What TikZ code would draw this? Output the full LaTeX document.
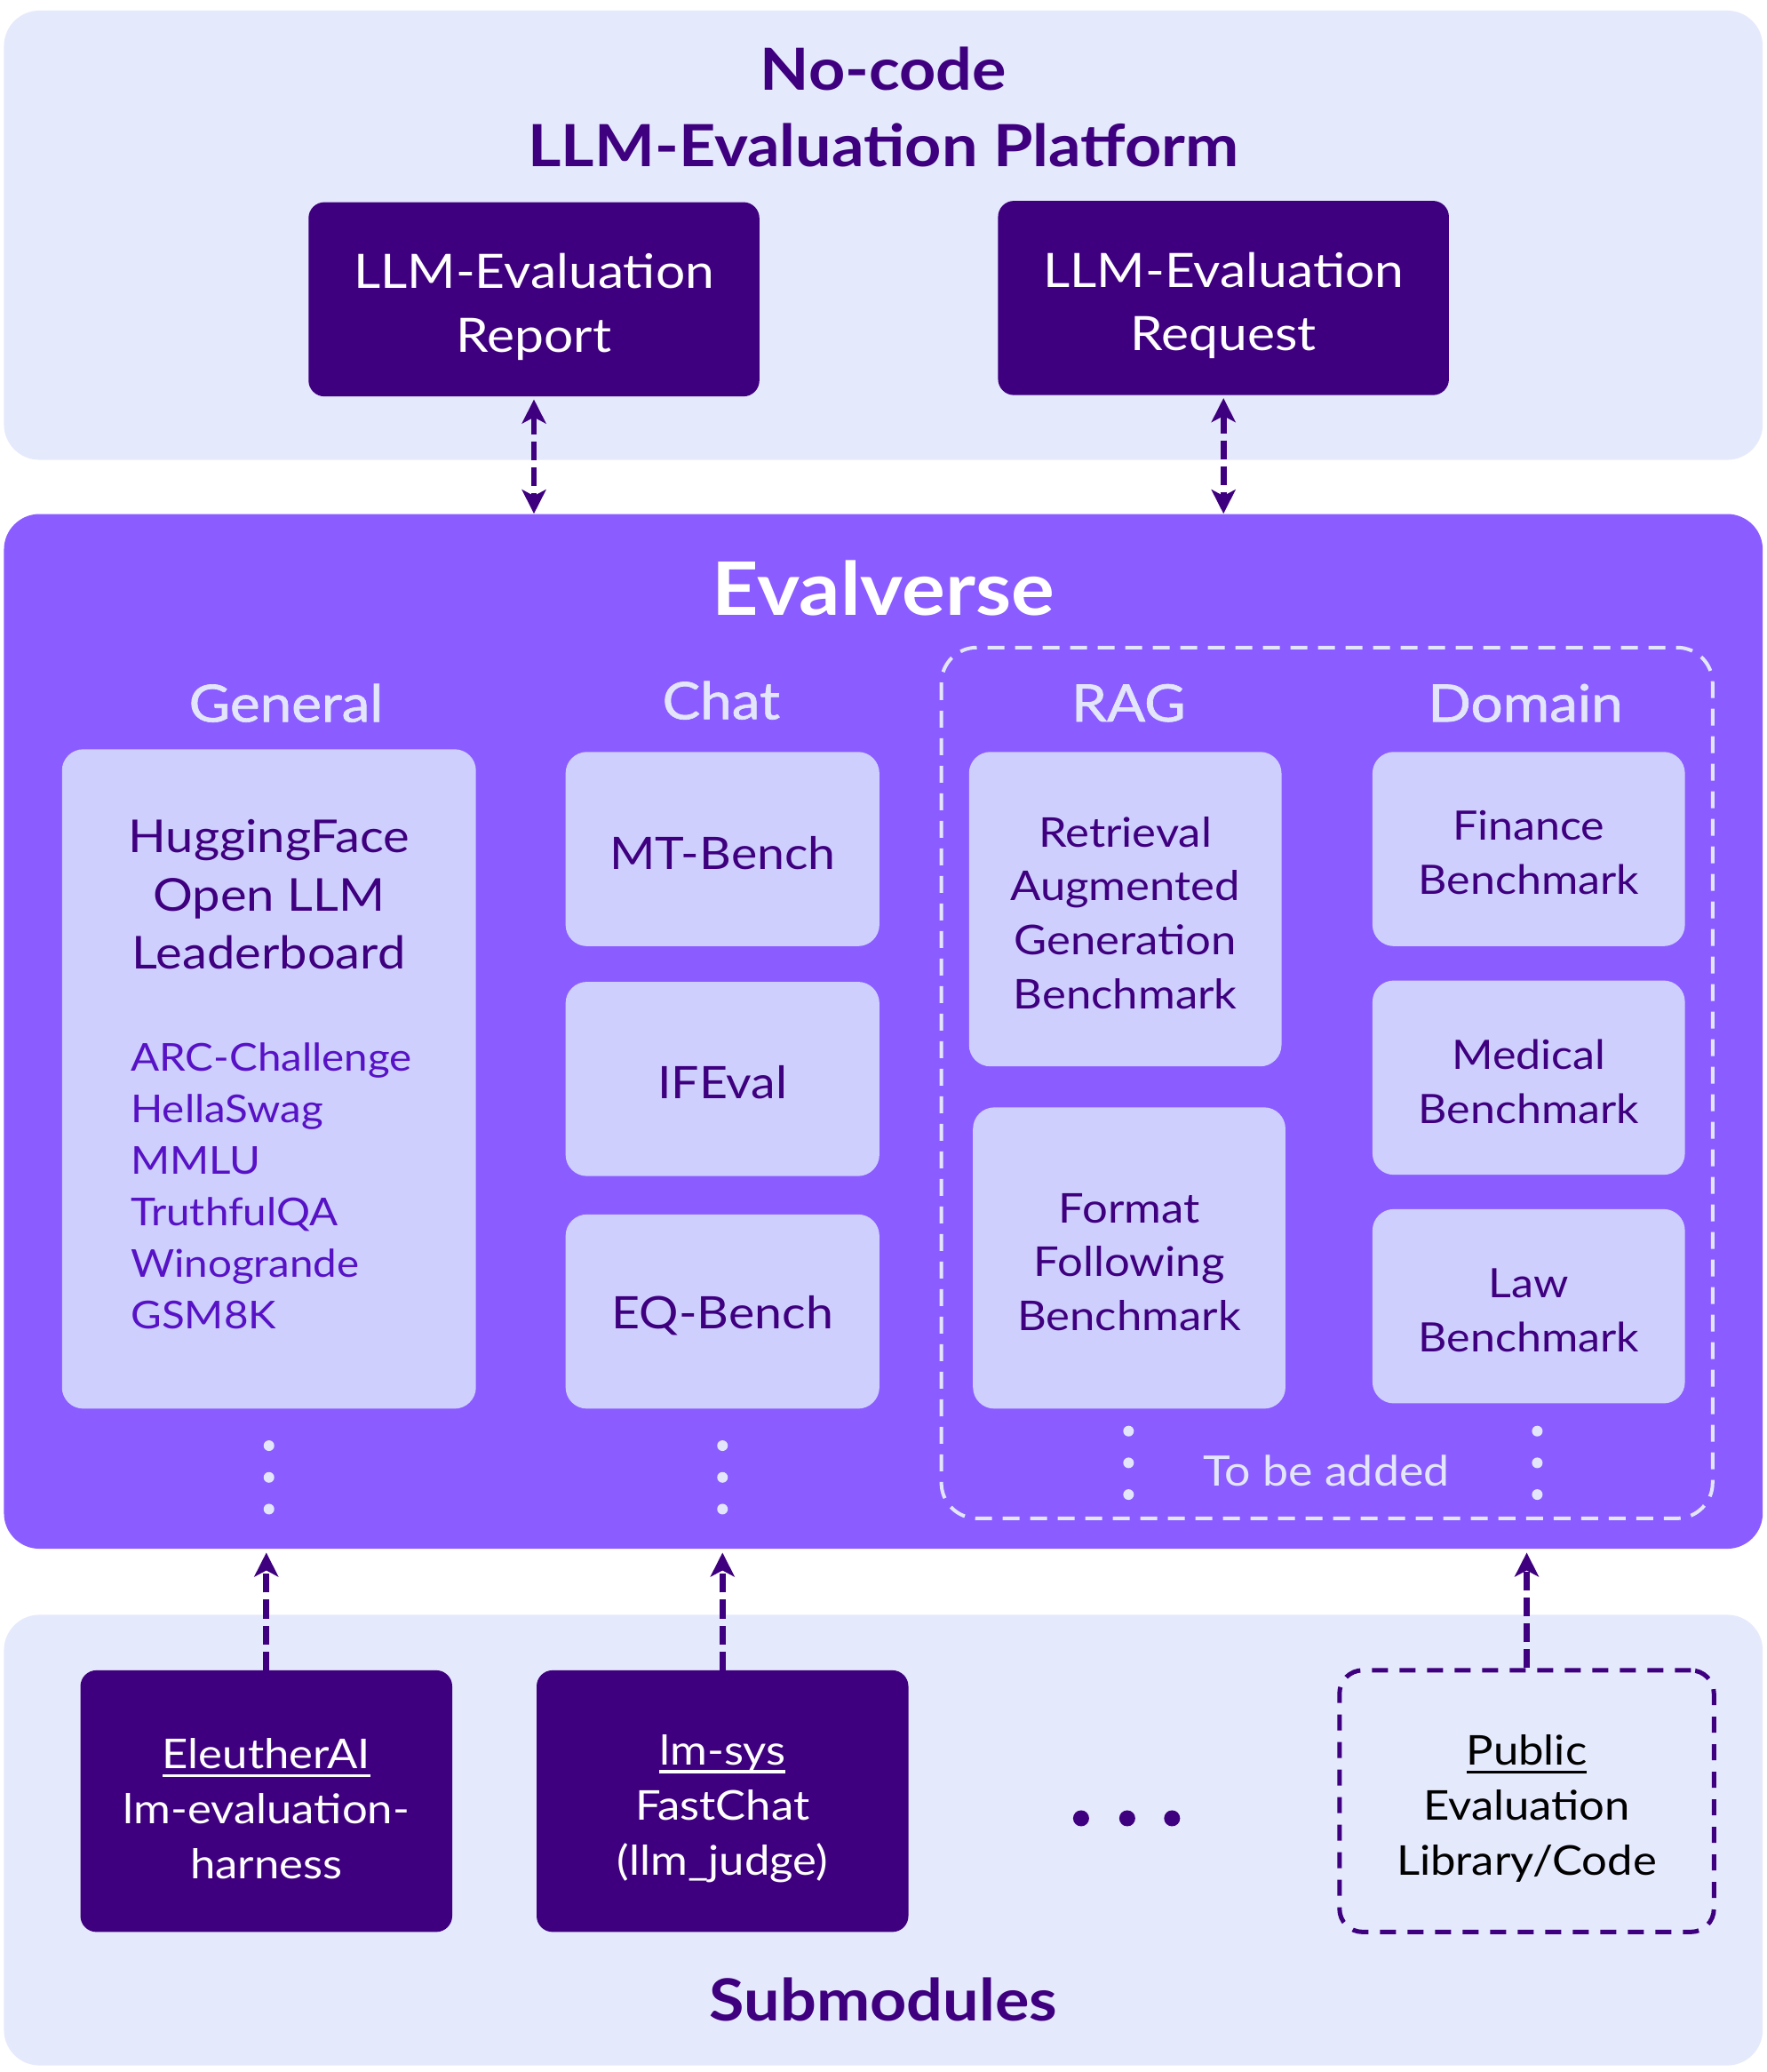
\documentclass[tikz,border=0pt]{standalone}
\usepackage{fontspec}
\setmainfont{Lato}[FakeStretch=1.1]
\newfontfamily\headfont{Lato}[FakeStretch=1.1, FakeBold=1.2]
\usetikzlibrary{arrows.meta}
\definecolor{bglight}{HTML}{E5E9FC}
\definecolor{evpurple}{HTML}{8B5CFF}
\definecolor{boxlight}{HTML}{CFCFFE}
\definecolor{darkp}{HTML}{3F007F}
\definecolor{listp}{HTML}{5712C6}
\definecolor{headtxt}{HTML}{E3E6FB}
\newcommand\myul[1]{\setbox0\hbox{#1}\rlap{\rule[-4.5pt]{\wd0}{1.6pt}}\box0}
\newcommand\dn[1]{\rule{0pt}{\dimexpr 0.725em + #1*2\relax}}
\tikzset{
  sz/.style 2 args={minimum width={#1*0.742pt}, minimum height={#2*0.7436pt}, inner sep=0pt},
  panel/.style={rounded corners=20pt, inner sep=0pt},
  darkbox/.style={fill=darkp, rounded corners=9pt, text=white, align=center},
  litebox/.style={fill=boxlight, rounded corners=12pt, text=darkp, align=center},
  darr/.style={draw=darkp, line width=3.3pt, dash pattern=on 10.5pt off 4pt, {Stealth[length=13.5pt,width=13.5pt,inset=3.5pt]}-{Stealth[length=13.5pt,width=13.5pt,inset=3.5pt]}},
  uarr/.style={draw=darkp, line width=3.3pt, dash pattern=on 10.5pt off 4pt, -{Stealth[length=13.5pt,width=13.5pt,inset=3.5pt]}},
  heading/.style={text=headtxt, font=\fontsize{29}{34}\headfont},
  boxfont/.style={font=\fontsize{26.7}{35.7}\selectfont},
  midfont/.style={font=\fontsize{25.2}{32.7}\selectfont},
  ragfont/.style={font=\fontsize{23.1}{30.4}\selectfont},
  domfont/.style={font=\fontsize{22.8}{30.4}\selectfont},
  subfont/.style={font=\fontsize{23.1}{31}\selectfont},
  wdot/.style={fill=headtxt},
}
\begin{document}
\begin{tikzpicture}[x=0.742pt,y=-0.7436pt]
\useasboundingbox (0,0) rectangle (1340,1568);
\fill[white] (0,0) rectangle (1340,1568);
% panels
\node[panel, fill=bglight, sz={1334}{340}] (plat) at (670,178) {};
\node[panel, fill=evpurple, sz={1334}{783}] (ev) at (670,780.5) {};
\node[panel, fill=bglight, sz={1334}{341}] (subm) at (670,1392.5) {};
% top
\node[text=darkp, align=center, font=\fontsize{32.7}{43}\selectfont\bfseries] (ptitle) at (670,81) {No-code\\LLM-Evaluation Platform};
\node[darkbox, boxfont, sz={342}{147}] (report) at (405,226.5) {\dn{4.5pt}LLM-Evaluation\\Report};
\node[darkbox, boxfont, sz={342}{147}] (request) at (928,225.5) {\dn{4.5pt}LLM-Evaluation\\Request};
\draw[darr] ([yshift=-1.5pt]report.south) -- (report.south |- ev.north);
\draw[darr] ([yshift=-1.5pt]request.south) -- (request.south |- ev.north);
% evalverse
\node[text=white, font=\fontsize{41.5}{48}\selectfont\bfseries] (evtitle) at (670,445) {Evalverse};
\draw[headtxt, line width=2pt, dash pattern=on 9.5pt off 6pt, rounded corners=20pt] (714,490) rectangle (1299,1149);
\node[heading] (hgen) at (217,532) {General};
\node[heading] (hchat) at (547,530) {Chat};
\node[heading] (hrag) at (856,532) {RAG};
\node[heading] (hdom) at (1157,532) {Domain};
% general
\node[litebox, sz={314}{499}] (gen) at (204,816.5) {};
\node[text=darkp, align=center, font=\fontsize{25.5}{32.7}\selectfont] (hf) at (204,677) {HuggingFace\\Open LLM\\Leaderboard};
\node[text=listp, align=left, anchor=west, inner sep=0pt, font=\fontsize{21.6}{29}\selectfont] (list) at (99,897.5) {ARC-Challenge\\HellaSwag\\MMLU\\TruthfulQA\\Winogrande\\GSM8K};
% chat
\node[litebox, midfont, sz={238}{147}] (mt) at (548,642.5) {\dn{2.2pt}MT-Bench};
\node[litebox, midfont, sz={238}{147}] (ife) at (548,816.5) {\dn{2.2pt}IFEval};
\node[litebox, midfont, sz={238}{147}] (eq) at (548,992.5) {\dn{2.2pt}EQ-Bench};
% rag
\node[litebox, ragfont, sz={237}{238}] (rag1) at (853.5,688) {\dn{2.2pt}Retrieval\\Augmented\\Generation\\Benchmark};
\node[litebox, ragfont, sz={237}{228}] (rag2) at (856.5,952) {\dn{2.2pt}Format\\Following\\Benchmark};
% domain
\node[litebox, domfont, sz={237}{147}] (fin) at (1159.5,642.5) {\dn{2.2pt}Finance\\Benchmark};
\node[litebox, domfont, sz={237}{147}] (med) at (1159.5,815.5) {\dn{2.2pt}Medical\\Benchmark};
\node[litebox, domfont, sz={237}{147}] (law) at (1159.5,988.5) {\dn{2.2pt}Law\\Benchmark};
% dots
\foreach \x in {204,548} {\foreach \y in {1094,1118,1142} {\fill[wdot] (\x,\y) circle (3pt);}}
\foreach \x in {856,1166} {\foreach \y in {1083,1107,1131} {\fill[wdot] (\x,\y) circle (3pt);}}
\node[text=headtxt, font=\fontsize{23.6}{28}\selectfont] (tba) at (1006,1113) {To be added};
% submodules
\node[darkbox, subfont, sz={282}{198}] (eleu) at (202,1363) {\dn{4.5pt}\myul{EleutherAI}\\lm-evaluation-\\harness};
\node[darkbox, subfont, sz={282}{198}] (lmsys) at (548,1363) {\dn{4.5pt}\myul{lm-sys}\\FastChat\\(llm\_judge)};
\node[subfont, text=black, align=center, draw=darkp, line width=2.5pt, dash pattern=on 9pt off 6.5pt, rounded corners=13pt, sz={284}{198}] (pub) at (1158,1363) {\dn{4.5pt}\myul{Public}\\Evaluation\\Library/Code};
\foreach \x in {820,855,889} {\fill[darkp] (\x,1376) circle (4.5pt);}
\node[text=darkp, font=\fontsize{32.7}{40}\selectfont\bfseries] (subtitle) at (670,1513) {Submodules};
\draw[uarr] (eleu.north) -- ([yshift=-2pt]eleu.north |- ev.south);
\draw[uarr] (lmsys.north) -- ([yshift=-2pt]lmsys.north |- ev.south);
\draw[uarr] (pub.north) -- ([yshift=-2pt]pub.north |- ev.south);
\end{tikzpicture}
\end{document}
